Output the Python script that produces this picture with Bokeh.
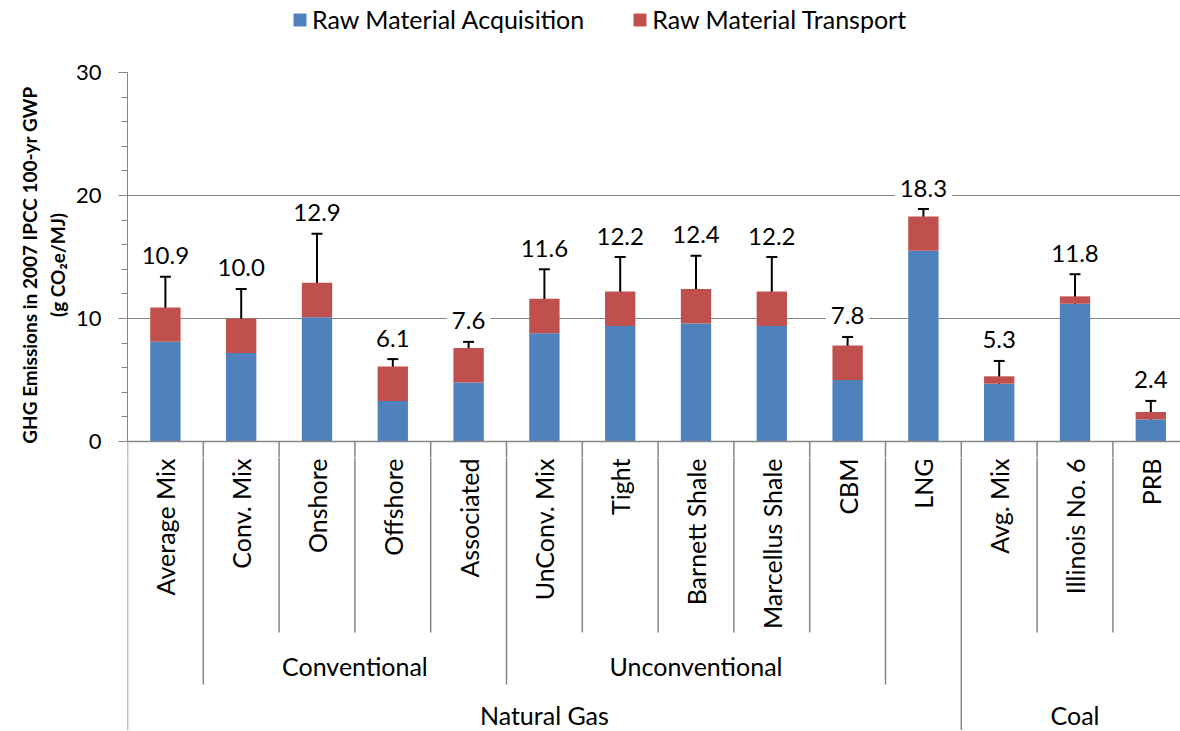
import math
from bokeh.plotting import figure
from bokeh.models import (ColumnDataSource, Range1d, Whisker, TeeHead, Span, Legend,
                          LegendItem, SingleIntervalTicker, FixedTicker, LinearAxis)
from bokeh.layouts import column
from bokeh.embed import file_html
from bokeh.resources import INLINE
from bokeh.core.properties import value

# ---------------- data ----------------
categories = ["Average Mix", "Conv. Mix", "Onshore", "Offshore", "Associated",
              "UnConv. Mix", "Tight", "Barnett Shale", "Marcellus Shale", "CBM",
              "LNG", "Avg. Mix", "Illinois No. 6", "PRB"]
subgroup = ["", "Conventional", "Conventional", "Conventional", "Conventional",
            "Unconventional", "Unconventional", "Unconventional", "Unconventional",
            "Unconventional", "", "", "", ""]
group = ["Natural Gas"] * 11 + ["Coal"] * 3
acquisition = [8.1, 7.2, 10.1, 3.3, 4.8, 8.8, 9.4, 9.6, 9.4, 5.0, 15.5, 4.7, 11.2, 1.8]
transport = [2.8, 2.8, 2.8, 2.8, 2.8, 2.8, 2.8, 2.8, 2.8, 2.8, 2.8, 0.6, 0.6, 0.6]
err_low = [9.3, 8.4, 10.4, 5.45, 7.0, 9.95, 10.4, 10.5, 9.95, 7.1, 17.6, 4.15, 10.3, 1.4]
err_high = [13.4, 12.4, 16.9, 6.7, 8.1, 14.0, 15.0, 15.1, 15.0, 8.5, 18.9, 6.55, 13.6, 3.3]
series_names = ["Raw Material Acquisition", "Raw Material Transport"]
y_title = ["GHG Emissions in 2007 IPCC 100-yr GWP", "(g CO\u2082e/MJ)"]
y_ticks_interval = 10

# ---------------- style / layout ----------------
BLUE, RED, GREY = "#4F81BD", "#C0504D", "#868686"
FONT = "Lato"
PX = 12.3                      # pixels per y unit
LEFT = 127
W = 1180
CAT_W = 75.8
frame_w = W - LEFT
x_end = frame_w / CAT_W
L_h = 58
TOP_BORDER = 14
below_px = 16
A_h = int(round(TOP_BORDER + 30 * PX + below_px))
B_h = 730 - L_h - A_h


def v(py_below_axis):
    """convert pixels below the zero line to data units"""
    return -py_below_axis / PX


n = len(categories)
xs = [i + 0.5 for i in range(n)]
totals = [a + t for a, t in zip(acquisition, transport)]
labels = [f"{t:.1f}" for t in totals]
label_y = [h + 21 / PX for h in err_high]

src = ColumnDataSource(dict(x=xs, acq=acquisition, trans=transport, lo=err_low,
                            hi=err_high, ly=label_y, lab=labels))

x_range = Range1d(0, x_end)


def bare(height, y_range):
    f = figure(width=W, height=height, x_range=x_range, y_range=y_range,
               output_backend="svg", toolbar_location=None, x_axis_location=None,
               y_axis_location=None, min_border_left=LEFT, min_border_right=0,
               min_border_top=0, min_border_bottom=0)
    f.outline_line_color = None
    f.grid.visible = False
    return f


# ---------------- legend strip ----------------
lg = bare(L_h, Range1d(0, 1))
offscreen = ColumnDataSource(dict(x=[1], top=[-20], bottom=[-21]))
r1 = lg.vbar(x="x", top="top", bottom="bottom", width=0.4, source=offscreen, color=BLUE)
r2 = lg.vbar(x="x", top="top", bottom="bottom", width=0.4, source=offscreen, color=RED)
legend = Legend(items=[LegendItem(label=series_names[0], renderers=[r1]),
                       LegendItem(label=series_names[1], renderers=[r2])],
                orientation="horizontal", location=(165, L_h - 34),
                label_text_font=FONT, label_text_font_size="25px",
                label_text_color="black", label_height=30,
                glyph_width=15, glyph_height=15, label_standoff=5, spacing=48,
                padding=0, margin=0, border_line_color=None, background_fill_alpha=0)
lg.add_layout(legend)

# ---------------- main figure ----------------
p = figure(width=W, height=A_h, x_range=x_range, y_range=Range1d(v(below_px), 30),
           output_backend="svg", toolbar_location=None, x_axis_location=None,
           min_border_left=LEFT, min_border_right=0, min_border_top=TOP_BORDER,
           min_border_bottom=0)
p.outline_line_color = None
p.xgrid.visible = False

ticker = SingleIntervalTicker(interval=y_ticks_interval, num_minor_ticks=5)
ya = p.yaxis[0]
ya.ticker = ticker
ya.bounds = (0, 30)
ya.axis_line_color = GREY
ya.major_tick_line_color = GREY
ya.minor_tick_line_color = GREY
ya.major_tick_out = 9
ya.major_tick_in = 0
ya.minor_tick_out = 6
ya.minor_tick_in = 0
ya.major_label_standoff = 17
ya.major_label_text_font = FONT
ya.major_label_text_font_size = "22px"
ya.major_label_text_color = "black"
ya.axis_label = y_title[1]
ya.axis_label_text_font = FONT
ya.axis_label_text_font_style = "bold"
ya.axis_label_text_font_size = "19px"
ya.axis_label_text_color = "black"
ya.axis_label_standoff = 4

# outer title line as a second (tick-less) axis
ya2 = LinearAxis(ticker=FixedTicker(ticks=[]), axis_line_color=None,
                 major_tick_line_color=None, minor_tick_line_color=None,
                 major_tick_out=0, minor_tick_out=0, major_label_text_font_size="0px",
                 major_label_standoff=0, axis_label=y_title[0],
                 axis_label_text_font=FONT, axis_label_text_font_style="bold",
                 axis_label_text_font_size="19px", axis_label_text_color="black",
                 axis_label_standoff=2)
p.add_layout(ya2, "left")

p.ygrid.ticker = ticker
p.ygrid.grid_line_color = GREY
p.ygrid.grid_line_width = 1
p.ygrid.bounds = (0, 30)

bars = p.vbar_stack(["acq", "trans"], x="x", width=0.4, source=src,
                    color=[BLUE, RED], line_color=None)

p.add_layout(Span(location=0, dimension="width", line_color=GREY, line_width=1.5))

head = dict(size=11, line_color="black", line_width=2)
p.add_layout(Whisker(base="x", lower="lo", upper="hi", source=src, line_color="black",
                     line_width=2, lower_head=TeeHead(**head), upper_head=TeeHead(**head)))

p.text(x="x", y="ly", text="lab", source=src, text_align="center",
       text_baseline="middle", text_font=value(FONT), text_font_size="24px",
       text_color="black", background_fill_color="white", padding=5, level="overlay")

# ---------------- category axis figure ----------------
q = bare(B_h, Range1d(v(below_px + B_h), v(below_px)))

INNER_END, SUB_END, GROUP_END = v(191), v(243), v(400)
bx, by0, by1 = [], [], []
for k in range(n + 1):
    if k == 0 or k == n or group[k - 1] != group[k]:
        end = GROUP_END
    elif subgroup[k - 1] != subgroup[k]:
        end = SUB_END
    else:
        end = INNER_END
    bx.append(k)
    by0.append(0)
    by1.append(end)
for fig in (p, q):
    fig.segment(x0=bx, y0=by0, x1=bx, y1=by1, line_color=GREY, line_width=1.5)

q.text(x=xs, y=[v(17)] * n, text=categories, angle=math.pi / 2, text_align="right",
       text_baseline="middle", text_font=value(FONT), text_font_size="25px",
       text_color="black")


def spans(names):
    out = []
    i = 0
    while i < len(names):
        j = i
        while j + 1 < len(names) and names[j + 1] == names[i]:
            j += 1
        if names[i]:
            out.append((names[i], (i + j + 1) / 2))
        i = j + 1
    return out


sub = spans(subgroup)
q.text(x=[c for _, c in sub], y=[v(224)] * len(sub), text=[s for s, _ in sub],
       text_align="center", text_baseline="middle", text_font=value(FONT),
       text_font_size="25px", text_color="black")
grp = spans(group)
q.text(x=[c for _, c in grp], y=[v(273)] * len(grp), text=[s for s, _ in grp],
       text_align="center", text_baseline="middle", text_font=value(FONT),
       text_font_size="25px", text_color="black")

layout = column(lg, p, q, spacing=0)
open("out.html", "w").write(file_html(layout, INLINE))
